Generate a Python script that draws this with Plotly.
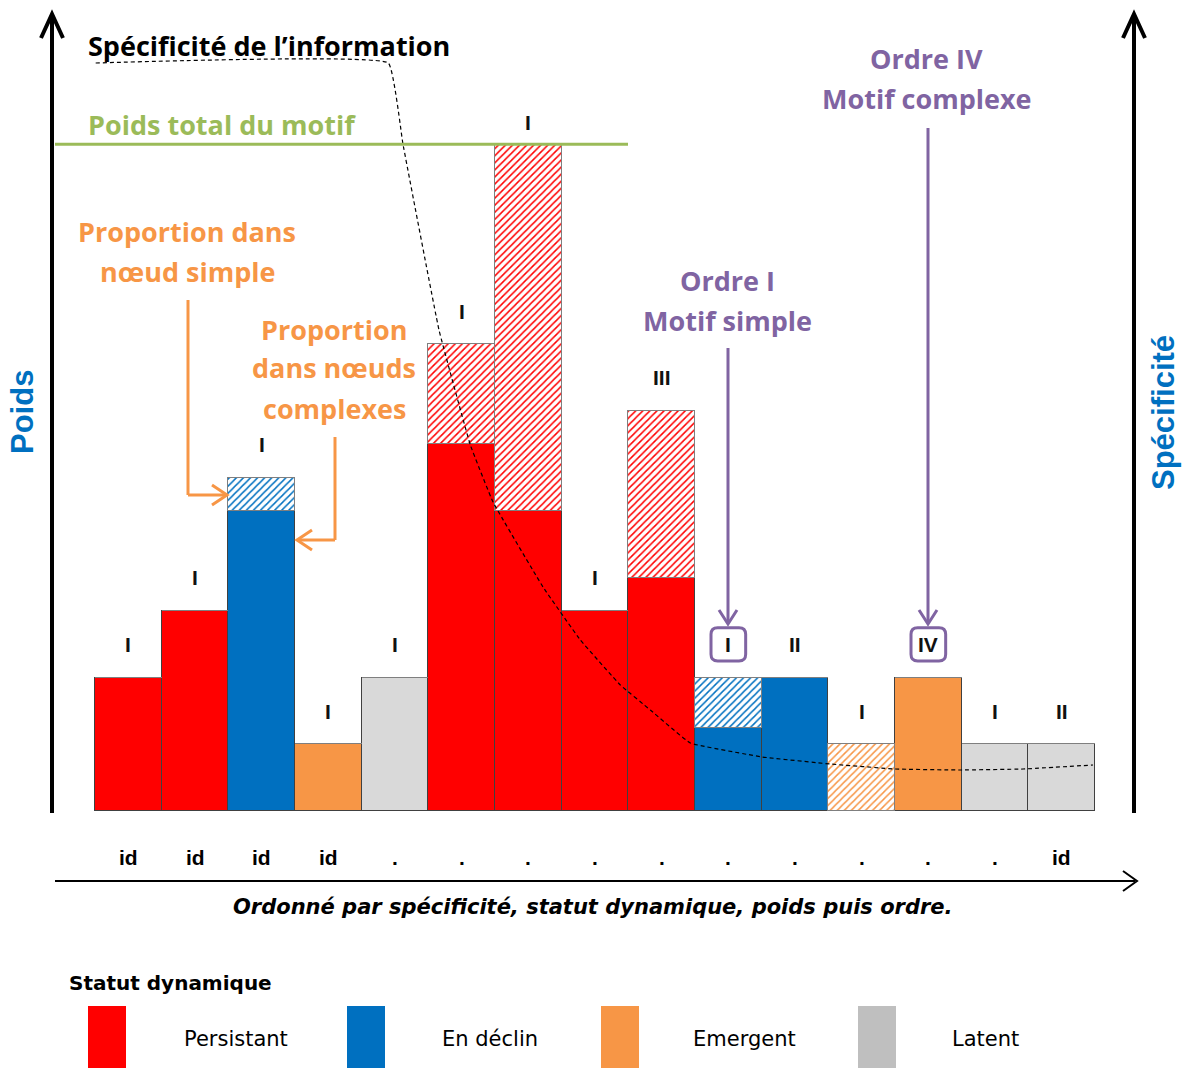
import plotly.graph_objects as go

# bar data (units of weight), one bar per motif
statuts = ['P', 'P', 'D', 'E', 'L', 'P', 'P', 'P', 'P', 'D', 'D', 'E', 'E', 'L', 'L']
poids_simple = [4, 6, 9, 2, 4, 11, 9, 6, 7, 2.5, 4, 0, 4, 2, 2]
poids_complexe = [0, 0, 1, 0, 0, 3, 11, 0, 5, 1.5, 0, 2, 0, 0, 0]
ordres = ['I', 'I', 'I', 'I', 'I', 'I', 'I', 'I', 'III', 'I', 'II', 'I', 'IV', 'I', 'II']
ordres_encadres = [9, 12]
etiquettes_bas = ['id', 'id', 'id', 'id', '.', '.', '.', '.', '.', '.', '.', '.', '.', '.', 'id']

# specificity curve (dashed), same axes
spec_x = [-0.49, 3.9, 4.12, 4.66, 5.13, 5.47, 6.22, 6.78, 7.38, 7.83, 8.43, 9.51, 10.53, 11.5, 12.48, 13.42, 14.47]
spec_y = [22.44, 22.44, 20.0, 14.43, 10.98, 9.27, 6.72, 5.13, 3.78, 3.03, 2.04, 1.62, 1.41, 1.26, 1.23, 1.26, 1.38]

legende_noms = ['Persistant', 'En déclin', 'Emergent', 'Latent']
legende_couleurs = ['#FF0000', '#0070C0', '#F79646', '#BFBFBF']

couleurs = {'P': '#FF0000', 'D': '#0070C0', 'E': '#F79646', 'L': '#D9D9D9'}

W, H = 1186, 1068
ORANGE = '#F79646'
VIOLET = '#8064A2'
VERT = '#9BBB59'
BLEU = '#0070C0'
CALIBRI = 'Open Sans, Lato, sans-serif'
ARIAL = 'Liberation Sans, Arial, sans-serif'
LARGE = 'DejaVu Sans, Liberation Sans, sans-serif'


def px(x):
    return x / W


def py(y):
    return 1 - y / H


x = list(range(len(statuts)))
totaux = [a + b for a, b in zip(poids_simple, poids_complexe)]
bar_colors = [couleurs[s] for s in statuts]

fig = go.Figure()

fig.add_trace(go.Bar(
    x=x, y=poids_simple, width=1,
    marker=dict(color=bar_colors, line=dict(color='#404040', width=1)),
    hoverinfo='skip'
))

fig.add_trace(go.Bar(
    x=x, y=poids_complexe, width=1,
    marker=dict(
        color=bar_colors,
        line=dict(color='#7f7f7f', width=1),
        pattern=dict(shape='/', fgcolor=bar_colors, bgcolor='white', size=5,
                     solidity=0.3, fillmode='replace')
    ),
    hoverinfo='skip'
))

fig.add_trace(go.Scatter(
    x=spec_x, y=spec_y, mode='lines',
    line=dict(color='black', width=1.2, dash='4px,3px', shape='spline', smoothing=0.25),
    hoverinfo='skip'
))


def line_px(x0, y0, x1, y1, color, width):
    fig.add_shape(type='line', xref='paper', yref='paper',
                  x0=px(x0), y0=py(y0), x1=px(x1), y1=py(y1),
                  line=dict(color=color, width=width))


def chevron(xt, yt, direction, length, half, color, width):
    if direction == 'up':
        pts = [(xt - half, yt + length), (xt, yt), (xt + half, yt + length)]
    elif direction == 'down':
        pts = [(xt - half, yt - length), (xt, yt), (xt + half, yt - length)]
    elif direction == 'right':
        pts = [(xt - length, yt - half), (xt, yt), (xt - length, yt + half)]
    else:
        pts = [(xt + length, yt - half), (xt, yt), (xt + length, yt + half)]
    path = 'M {} {} L {} {} L {} {}'.format(*[v for p in pts for v in (px(p[0]), py(p[1]))])
    fig.add_shape(type='path', xref='paper', yref='paper', path=path,
                  line=dict(color=color, width=width))


def texte(t, x0, y0, color, size, family, bold=True, xanchor='center', angle=0, italic=False):
    s = t
    if bold:
        s = '<b>' + s + '</b>'
    if italic:
        s = '<i>' + s + '</i>'
    fig.add_annotation(text=s, xref='paper', yref='paper', x=px(x0), y=py(y0),
                       xanchor=xanchor, yanchor='middle', showarrow=False, textangle=angle,
                       font=dict(color=color, size=size, family=family))


# axes drawn as arrows
line_px(52, 813, 52, 16, 'black', 4)
chevron(52, 14, 'up', 24, 11, 'black', 4)
line_px(1134, 813, 1134, 16, 'black', 4)
chevron(1134, 14, 'up', 24, 11, 'black', 4)
line_px(55, 881, 1135, 881, 'black', 2)
chevron(1137, 881, 'right', 14, 10, 'black', 2)

# total weight line
fig.add_shape(type='line', xref='paper', yref='y', x0=px(55), x1=px(628),
              y0=max(totaux), y1=max(totaux), line=dict(color=VERT, width=3))

# orange arrows
line_px(188, 300, 188, 495, ORANGE, 3)
line_px(188, 495, 226, 495, ORANGE, 3)
chevron(227, 495, 'right', 15, 10, ORANGE, 3)
line_px(335, 437, 335, 540, ORANGE, 3)
line_px(335, 540, 298, 540, ORANGE, 3)
chevron(297, 540, 'left', 15, 10, ORANGE, 3)

# purple arrows
line_px(728, 348, 728, 622, VIOLET, 3)
chevron(728, 624, 'down', 14, 9, VIOLET, 3)
line_px(928, 128, 928, 622, VIOLET, 3)
chevron(928, 624, 'down', 14, 9, VIOLET, 3)

# order labels above bars (the tallest one sits a bit lower, just above the green line)
for i, lab in enumerate(ordres):
    dy = 0.65 if totaux[i] == max(totaux) else 1.0
    fig.add_annotation(text='<b>' + lab + '</b>', x=i, y=totaux[i] + dy, xref='x', yref='y',
                       yanchor='middle', showarrow=False,
                       font=dict(color='#111111', size=21, family=ARIAL))
    if i in ordres_encadres:
        hx, r = 0.26, 0.1
        y0, y1 = totaux[i] + 0.5, totaux[i] + 1.5
        ry = 0.2
        x0, x1 = i - hx, i + hx
        path = (f'M {x0 + r} {y0} L {x1 - r} {y0} Q {x1} {y0} {x1} {y0 + ry} '
                f'L {x1} {y1 - ry} Q {x1} {y1} {x1 - r} {y1} L {x0 + r} {y1} '
                f'Q {x0} {y1} {x0} {y1 - ry} L {x0} {y0 + ry} Q {x0} {y0} {x0 + r} {y0} Z')
        fig.add_shape(type='path', xref='x', yref='y', path=path,
                      line=dict(color=VIOLET, width=3))

# labels under bars
for i, lab in enumerate(etiquettes_bas):
    fig.add_annotation(text='<b>' + lab + '</b>', x=i, y=py(857), xref='x', yref='paper',
                       yanchor='middle', showarrow=False,
                       font=dict(color='black', size=21, family=ARIAL))

# titles and notes
texte('Spécificité de l’information', 86, 45, 'black', 27, CALIBRI, xanchor='left')
texte('Poids total du motif', 86, 124, VERT, 27, CALIBRI, xanchor='left')
for t, yy in zip(['Proportion dans', 'nœud simple'], [232, 271]):
    texte(t, 187, yy, ORANGE, 27, CALIBRI)
for t, yy in zip(['Proportion', 'dans nœuds', 'complexes'], [329, 368, 408]):
    texte(t, 334, yy, ORANGE, 27, CALIBRI)
for t, yy in zip(['Ordre I', 'Motif simple'], [280, 320]):
    texte(t, 727, yy, VIOLET, 27, CALIBRI)
for t, yy in zip(['Ordre IV', 'Motif complexe'], [59, 98]):
    texte(t, 927, yy, VIOLET, 27, CALIBRI)

texte('Poids', 22, 412, BLEU, 31, ARIAL, angle=-90)
texte('Spécificité', 1163, 413, BLEU, 31, ARIAL, angle=-90)
texte('Ordonné par spécificité, statut dynamique, poids puis ordre.', 593, 907, 'black', 21, LARGE, italic=True)

# legend
texte('Statut dynamique', 67, 983, 'black', 20, LARGE, xanchor='left')
sw_x = [88, 347, 601, 858]
txt_x = [236, 490, 744, 985]
for nom, c, sx, tx in zip(legende_noms, legende_couleurs, sw_x, txt_x):
    fig.add_shape(type='rect', xref='paper', yref='paper', x0=px(sx), x1=px(sx + 38),
                  y0=py(1068), y1=py(1006), fillcolor=c, line=dict(width=0))
    texte(nom, tx, 1039, 'black', 21, LARGE, bold=False)

fig.update_layout(
    barmode='stack',
    bargap=0,
    showlegend=False,
    width=W, height=H,
    autosize=False,
    margin=dict(l=0, r=0, t=0, b=0),
    paper_bgcolor='white',
    plot_bgcolor='white',
    xaxis=dict(range=[-1.925, 15.865], visible=False, fixedrange=True),
    yaxis=dict(range=[-7.71, 24.33], visible=False, fixedrange=True),
)

fig.write_html("out.html", config={'displayModeBar': False},
               post_script="document.body.style.margin='0';")
